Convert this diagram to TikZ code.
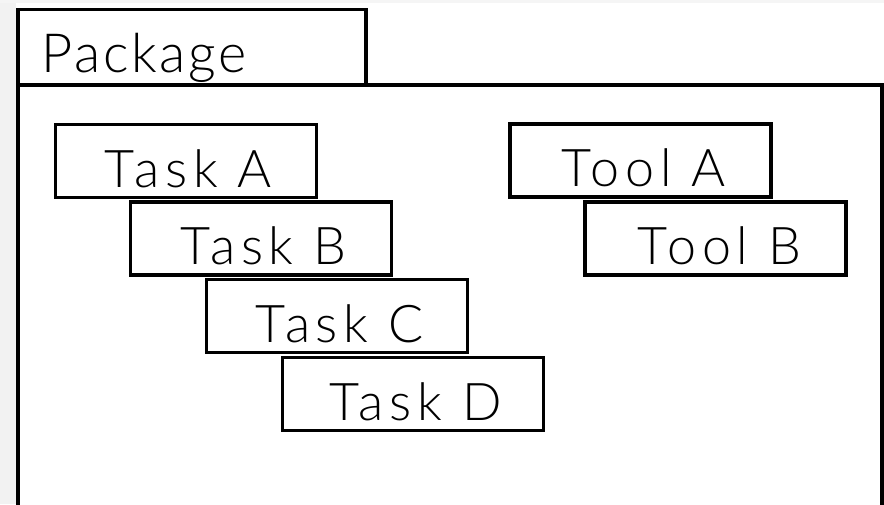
\documentclass[tikz,border=0pt]{standalone}
\usepackage{fontspec}
\setmainfont{DejaVu Sans}
\newfontfamily\thinfont[LetterSpace=11]{Lato Light}
\newfontfamily\thintab[LetterSpace=5]{Lato Light}
\begin{document}
\begin{tikzpicture}[x=1pt,y=-1pt,
  frame/.style={draw=black,line width=3.6pt,fill=white,inner sep=0pt},
  box/.style={draw=black,line width=3.4pt,fill=white,inner sep=0pt,
    minimum width=261pt,minimum height=73pt,
    text height=62.5pt,text depth=10.5pt,
    font=\thinfont\fontsize{52}{60}\selectfont},
  lbl/.style={inner sep=0pt,font=\thintab\fontsize{54}{60}\selectfont}]
\useasboundingbox (0,0) rectangle (884,504);
\fill[white] (0,0) rectangle (884,504);
\fill[black!5] (0,0) rectangle (16,504);
\fill[black!4] (0,0) rectangle (884,3);
% package frame
\node[frame,minimum width=864pt,minimum height=440pt] (pkgbody) at (450,305) {};
\node[frame,minimum width=348pt,minimum height=75.5pt] (pkgtab) at (192,47.25) {};
\node[lbl,anchor=base west] (pkgname) at (41,72) {Package};
% tasks
\node[box] (taskA) at (186,161) {\hspace*{5pt}Task A};
\node[box] (taskB) at (261,238.5) {\hspace*{5pt}Task B};
\node[box] (taskC) at (337,316) {\hspace*{5pt}Task C};
\node[box] (taskD) at (413,394) {\hspace*{5pt}Task D};
% tools
\node[box] (toolA) at (640.5,160.5) {\hspace*{6pt}Tool A};
\node[box] (toolB) at (715.5,238.5) {\hspace*{8pt}Tool B};
\end{tikzpicture}
\end{document}
